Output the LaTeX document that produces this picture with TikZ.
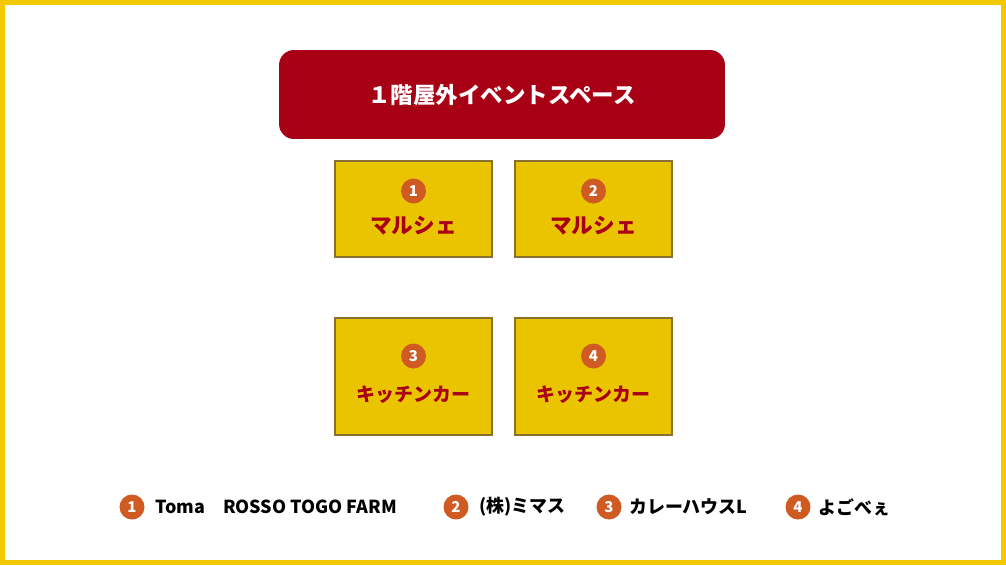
\documentclass[tikz,border=0pt]{standalone}
\usepackage{fontspec}
\setmainfont{Noto Sans CJK JP}
\newfontfamily\jp{Noto Sans CJK JP}
\definecolor{rouge}{HTML}{A80014}
\definecolor{jaune}{HTML}{EBC400}
\definecolor{cadre}{HTML}{F2C800}
\definecolor{bord}{HTML}{8A7030}
\definecolor{pastille}{HTML}{CF5A22}

\tikzset{stand/.style = {rectangle, draw = bord, fill = jaune, line width = 0.6pt,
                         minimum width = 3.14cm, minimum height = #1},
         stand/.default = 1.92cm,
         num/.style = {circle, fill = pastille, text = white, inner sep = 0pt,
                       minimum size = 0.5cm, font = \jp\bfseries\fontsize{8.5}{8.5}\selectfont},
         nom/.style = {text = rouge, font = \jp\bfseries\fontsize{#1}{#1}\selectfont},
         nom/.default = 12.3,
         legende/.style = {anchor = west, inner sep = 0pt, font = \jp\bfseries\fontsize{10.2}{10.2}\selectfont}
        }

\begin{document}
\begin{tikzpicture}[x=0.02cm, y=-0.02cm]
\useasboundingbox (0,0) rectangle (1006,565);
\fill[white] (0,0) rectangle (1006,565);
\draw[cadre, line width = 0.1cm] (2.5,2.5) rectangle (1003.5,562.5);
% espace evenement
\node[rectangle, rounded corners = 0.3cm, fill = rouge, text = white,
      minimum width = 8.92cm, minimum height = 1.78cm,
      font = \jp\bfseries\fontsize{12.8}{12.8}\selectfont] at (502,94.5) (ev) {１階屋外イベントスペース};
% stands
\node[stand] at (413.5,209) (s1) {};
\node[stand] at (593.5,209) (s2) {};
\node[stand = 2.34cm] at (413.5,376.5) (s3) {};
\node[stand = 2.34cm] at (593.5,376.5) (s4) {};
\node[num] at (413.5,191) (n1) {1};
\node[num] at (593.5,191) (n2) {2};
\node[num] at (413.5,356) (n3) {3};
\node[num] at (593.5,356) (n4) {4};
\node[nom] at (413.5,226) (m1) {マルシェ};
\node[nom] at (593.5,226) (m2) {マルシェ};
\node[nom = 10.8] at (413.5,395) (k3) {キッチンカー};
\node[nom = 10.8] at (593.5,395) (k4) {キッチンカー};
% legende
\node[num] at (132,507) (b1) {1};
\node[num] at (456,507) (b2) {2};
\node[num] at (609,507) (b3) {3};
\node[num] at (798,507) (b4) {4};
\node[legende] at (155,507) (l1) {Toma　ROSSO TOGO FARM};
\node[legende] at (479,507) (l2) {(株)ミマス};
\node[legende] at (629,507) (l3) {カレーハウスL};
\node[legende] at (818,507) (l4) {よごべぇ};
\end{tikzpicture}
\end{document}
